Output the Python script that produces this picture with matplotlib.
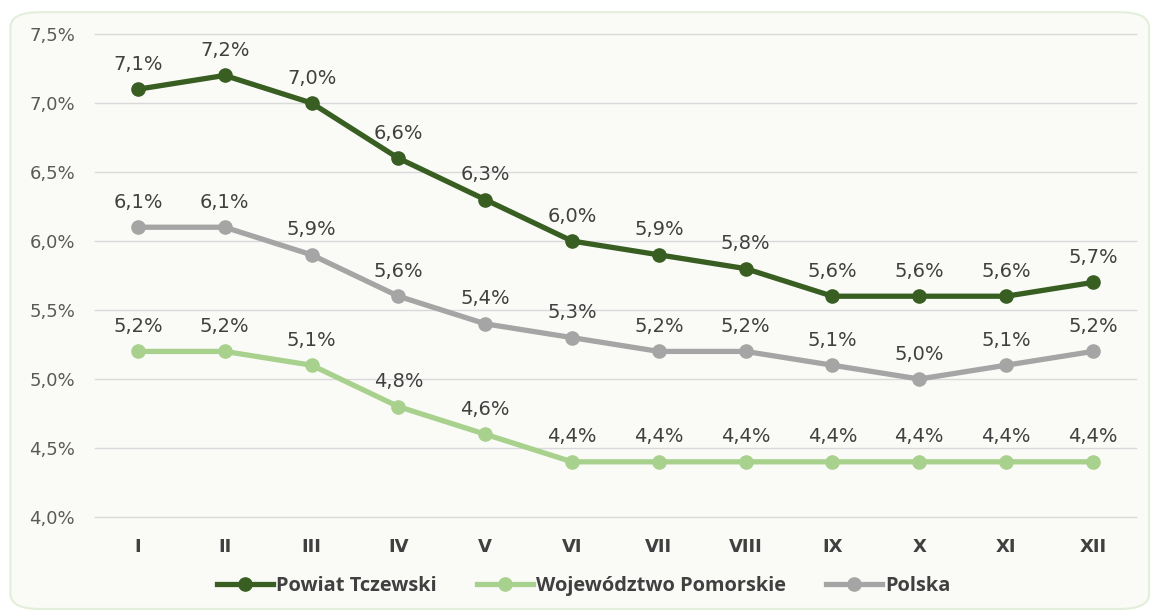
import numpy as np
import matplotlib.pyplot as plt
from matplotlib.patches import FancyBboxPatch

months = ["I", "II", "III", "IV", "V", "VI", "VII", "VIII", "IX", "X", "XI", "XII"]
powiat = [7.1, 7.2, 7.0, 6.6, 6.3, 6.0, 5.9, 5.8, 5.6, 5.6, 5.6, 5.7]
pomorskie = [5.2, 5.2, 5.1, 4.8, 4.6, 4.4, 4.4, 4.4, 4.4, 4.4, 4.4, 4.4]
polska = [6.1, 6.1, 5.9, 5.6, 5.4, 5.3, 5.2, 5.2, 5.1, 5.0, 5.1, 5.2]

series = [
    ("Powiat Tczewski", powiat, "#385E22"),
    ("Województwo Pomorskie", pomorskie, "#A9D18E"),
    ("Polska", polska, "#A5A5A5"),
]

plt.rcParams["font.family"] = ["DejaVu Sans"]

fig = plt.figure(figsize=(11.56, 6.12), dpi=100)
fig.patch.set_facecolor("white")

# rounded frame around the chart, kept behind the axes
frame = FancyBboxPatch((0.009, 0.005), 0.985, 0.975,
                       boxstyle="round,pad=0,rounding_size=0.025",
                       transform=fig.transFigure, facecolor="#FAFBF7",
                       edgecolor="#E2EFDA", linewidth=1.5, zorder=-10)
fig.patches.append(frame)

ax = fig.add_axes([0.0818, 0.1552, 0.9012, 0.7892])
ax.set_facecolor("none")
ax.set_zorder(1)

x = np.arange(len(months))
for name, vals, color in series:
    ax.plot(x, vals, color=color, linewidth=3.8, marker="o", markersize=9.5,
            label=name, zorder=3)
    for xi, v in zip(x, vals):
        ax.annotate(f"{v:.1f}%".replace(".", ","), (xi, v), xytext=(0, 18),
                    textcoords="offset points", ha="center", va="center",
                    fontsize=14, color="#404040")

ax.set_xlim(-0.5, len(months) - 0.5)
ax.set_ylim(4.0, 7.5)
yt = np.arange(4.0, 7.51, 0.5)
ax.set_yticks(yt)
ax.set_yticklabels([f"{t:.1f}%".replace(".", ",") for t in yt])
ax.set_xticks(x)
ax.set_xticklabels(months, fontweight="bold")
ax.tick_params(axis="y", length=0, labelsize=13, labelcolor="#595959", pad=14)
ax.tick_params(axis="x", length=0, labelsize=13, labelcolor="#404040", pad=15)
ax.grid(axis="y", color="#D9D9D9", linewidth=1)
for gl in ax.get_ygridlines():
    gl.set_clip_on(False)
ax.set_axisbelow(True)
for s in ax.spines.values():
    s.set_visible(False)

leg = fig.legend(loc="center", bbox_to_anchor=(0.505, 0.042), ncol=3, frameon=False,
                 prop={"family": ["Open Sans", "DejaVu Sans"], "size": 14.4, "weight": "bold"},
                 handlelength=2.8, columnspacing=2.0, handletextpad=0.15)
for t in leg.get_texts():
    t.set_color("#404040")

fig.savefig("out.png", dpi=100)
